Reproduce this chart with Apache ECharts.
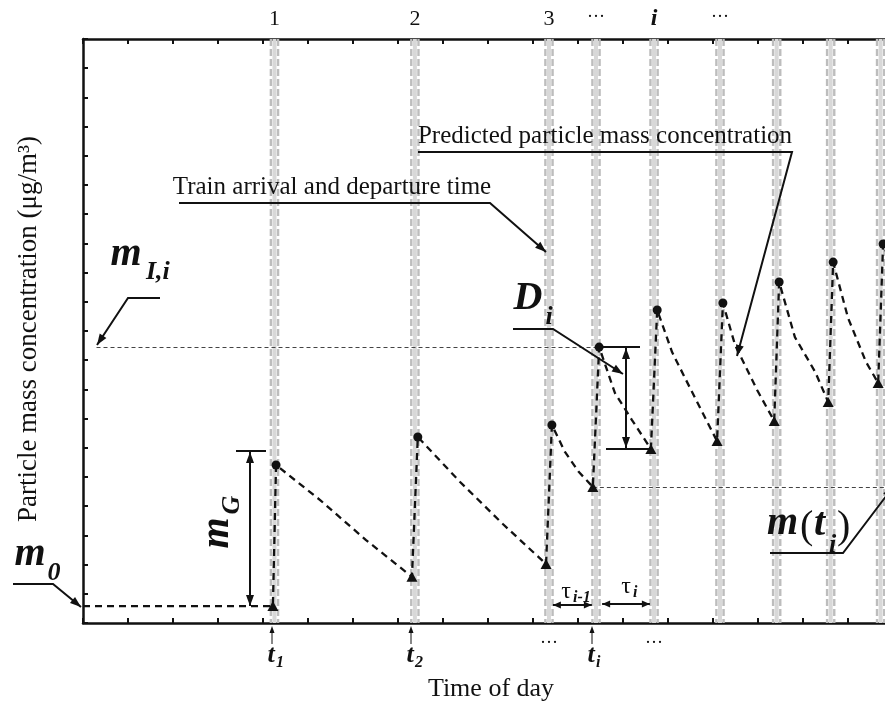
<!DOCTYPE html>
<html>
<head>
<meta charset="utf-8">
<script src="https://cdn.jsdelivr.net/npm/echarts@6/dist/echarts.min.js"></script>
<style>
  html, body { margin: 0; padding: 0; background: #fff; overflow: hidden; }
  #c { width: 910px; height: 709px; }
</style>
</head>
<body>
<div id="c"></div>
<script>
// Train arrival and departure times (x axis units)
const arrivals   = [4.22, 7.31, 10.29, 11.33, 12.62, 14.09, 15.36, 16.56, 17.67];
const departures = [4.29, 7.44, 10.42, 11.47, 12.76, 14.22, 15.47, 16.67, 17.78];
// Background concentration before the first train
const m0 = 0.58;
// Concentration at each arrival (triangles) and at each departure (circles)
const troughs = [0.58, 1.58, 2.02, 4.66, 5.96, 6.23, 6.92, 7.57, 8.22];
const peaks   = [5.41, 6.37, 6.78, 9.45, 10.72, 10.96, 11.68, 12.36, 12.98];
// Points along each decay, from a departure to the next arrival
const decayX = [[5.27, 6.29], [8.38, 9.33], [10.71, 11.02], [11.82, 12.20], [13.09, 13.60],
                [14.49, 14.98], [15.82, 16.27], [17.00, 17.40], [18.20]];
const decayY = [[4.21, 2.84], [4.83, 3.39], [5.86, 5.17], [7.88, 6.95], [9.28, 7.71],
                [9.52, 7.98], [9.79, 8.60], [10.45, 8.94], [11.30]];
// Labels above the train bands and below the axis
const topLabels = ['1', '2', '3', '···', 'i', '···'];
const bottomLabels = [['t', '1'], ['t', '2'], ['···', ''], ['t', 'i'], ['···', '']];

const X_MAX = 18, Y_MAX = 20;
const FONT = "'Liberation Serif','Times New Roman',serif";
const INK = '#111';

const chart = echarts.init(document.getElementById('c'), null, { renderer: 'canvas' });

// Sawtooth profile: background, then for every train a rise and a decay
const sawData = [{ value: [0, m0], symbol: 'none' }];
arrivals.forEach((a, k) => {
  sawData.push({ value: [a, troughs[k]], symbol: 'triangle', symbolSize: [11, 10] });
  sawData.push({ value: [departures[k], peaks[k]], symbol: 'circle', symbolSize: 9 });
  decayX[k].forEach((x, j) => sawData.push({ value: [x, decayY[k][j]], symbol: 'none' }));
});

const axisCommon = {
  type: 'value', min: 0, interval: 1,
  axisLine: { onZero: false, lineStyle: { color: INK, width: 2.5 } },
  axisTick: { inside: true, length: 5, lineStyle: { color: INK, width: 2 } },
  axisLabel: { show: false },
  splitLine: { show: false }
};

chart.setOption({
  animation: false,
  backgroundColor: '#fff',
  grid: { left: 83, top: 39, bottom: 86, right: 17, containLabel: false },
  xAxis: [
    Object.assign({}, axisCommon, { max: X_MAX, position: 'bottom' }),
    Object.assign({}, axisCommon, { max: X_MAX, position: 'top' })
  ],
  yAxis: [Object.assign({}, axisCommon, { max: Y_MAX, position: 'left' })],
  series: [
    {
      // Train presence bands: arrival to departure
      type: 'custom',
      z: 1,
      silent: true,
      data: arrivals.map((a, i) => [a, departures[i]]),
      encode: { x: [0, 1] },
      renderItem: function (params, api) {
        const a = api.coord([api.value(0), 0])[0];
        const d = api.coord([api.value(1), 0])[0];
        const cx = (a + d) / 2;
        const cs = params.coordSys;
        const y0 = cs.y, y1 = cs.y + cs.height;
        return {
          type: 'group',
          children: [
            { type: 'rect', shape: { x: cx - 2, y: y0, width: 4, height: cs.height }, style: { fill: '#d8d8d8' } },
            { type: 'line', shape: { x1: cx - 3.6, y1: y0, x2: cx - 3.6, y2: y1 }, style: { stroke: '#bdbdbd', lineWidth: 2.4, lineDash: [7, 3] } },
            { type: 'line', shape: { x1: cx + 3.6, y1: y0, x2: cx + 3.6, y2: y1 }, style: { stroke: '#bdbdbd', lineWidth: 2.4, lineDash: [7, 3] } }
          ]
        };
      }
    },
    {
      // Predicted particle mass concentration
      type: 'line',
      z: 5,
      silent: true,
      showAllSymbol: true,
      smooth: false,
      clip: true,
      data: sawData,
      itemStyle: { color: INK },
      lineStyle: { color: INK, width: 2.3, type: [7, 5] },
      markLine: {
        silent: true,
        symbol: 'none',
        label: { show: false },
        lineStyle: { color: '#444', width: 1, type: [4, 3] },
        data: [
          [{ coord: [0.3, peaks[3]] }, { coord: [departures[3], peaks[3]] }],
          [{ coord: [arrivals[3], troughs[3]] }, { coord: [X_MAX, troughs[3]] }]
        ]
      }
    }
  ]
});

// ---------- annotations ----------
const px = (x, y) => chart.convertToPixel({ xAxisIndex: 0, yAxisIndex: 0 }, [x, y]);

function T(x, y, s, size, o) {
  o = o || {};
  const font = (o.it ? 'italic ' : '') + (o.b ? 'bold ' : '') + size + 'px ' + FONT;
  const al = o.align || 'center';
  return {
    type: 'text', x: x, y: y, rotation: o.rot || 0, z: 50, silent: true,
    style: { text: s, font: font, fill: INK, textAlign: al, align: al, textVerticalAlign: 'middle', verticalAlign: 'middle' }
  };
}
function L(points, w) {
  return { type: 'polyline', z: 50, silent: true, shape: { points: points }, style: { stroke: INK, lineWidth: w || 2, fill: null } };
}
function H(tip, from, len, wid) {
  len = len || 11; wid = wid || 8;
  const dx = tip[0] - from[0], dy = tip[1] - from[1];
  const l = Math.hypot(dx, dy), ux = dx / l, uy = dy / l;
  const bx = tip[0] - ux * len, by = tip[1] - uy * len;
  const nx = -uy * wid / 2, ny = ux * wid / 2;
  return { type: 'polygon', z: 51, silent: true, shape: { points: [tip, [bx + nx, by + ny], [bx - nx, by - ny]] }, style: { fill: INK } };
}
function pointer(points, len, wid) {
  const n = points.length;
  return [L(points), H(points[n - 1], points[n - 2], len, wid)];
}
function dbl(a, b, w, len, wid) {
  return [L([a, b], w || 2), H(a, b, len, wid), H(b, a, len, wid)];
}

const g = [];
const bi = { b: true, it: true };
const centers = arrivals.map((a, k) => px((a + departures[k]) / 2, 0)[0]);

// axis titles
g.push(T(29, 329, 'Particle mass concentration (μg/m³)', 27, { rot: Math.PI / 2 }));
g.push(T(491, 689, 'Time of day', 26));

// train numbers above the plot
topLabels.forEach((s, k) => {
  if (s === '···') g.push(T(centers[k], 17, s, 18));
  else if (s === 'i') g.push(T(centers[k], 19, s, 24, bi));
  else g.push(T(centers[k], 19, s, 22));
});

// arrival markers under the axis
bottomLabels.forEach((lab, k) => {
  const ax = Math.round(px(arrivals[k], 0)[0]) - 1;
  if (lab[0] === '···') {
    g.push(T(centers[k], 643, '···', 18));
  } else {
    g.push(L([[ax, 644], [ax, 632]], 1));
    g.push(H([ax, 626], [ax, 644], 7, 5));
    g.push(T(ax - 1, 655, lab[0], 26, bi));
    g.push(T(ax + 4, 663, lab[1], 16, Object.assign({ align: 'left' }, bi)));
  }
});

// m0
g.push(T(30, 555, 'm', 40, bi));
g.push(T(54, 573, '0', 26, bi));
g.push(...pointer([[13, 584], [53, 584], [81, 607]], 11, 8));

// mG
const yM0 = px(0, m0)[1];
g.push(L([[236, 451], [266, 451]]));
g.push(...dbl([250, 452], [250, yM0], 2, 11, 8));
g.push(T(218, 533, 'm', 40, Object.assign({ rot: Math.PI / 2 }, bi)));
g.push(T(232, 505, 'G', 26, Object.assign({ rot: Math.PI / 2 }, bi)));

// m_I,i
g.push(T(126, 255, 'm', 40, bi));
g.push(T(146, 272, 'I,i', 26, Object.assign({ align: 'left' }, bi)));
g.push(...pointer([[160, 298], [128, 298], [97, 345]], 11, 8));

// Train arrival and departure time
g.push(T(332, 187, 'Train arrival and departure time', 25));
g.push(...pointer([[179, 203], [490, 203], [546, 252]], 11, 8));

// Predicted particle mass concentration
g.push(T(605, 136, 'Predicted particle mass concentration', 25));
g.push(...pointer([[418, 152], [792, 152], [737, 356]], 11, 8));

// D_i: drop between a departure and the next arrival
const yTop = px(0, peaks[3])[1], yBot = px(0, troughs[4])[1];
const xDep = px(departures[3], 0)[0], xArr = px(arrivals[4], 0)[0];
g.push(L([[xDep - 2, yTop], [640, yTop]]));
g.push(L([[606, yBot], [xArr, yBot]]));
g.push(...dbl([626, yTop + 1], [626, yBot - 1], 2, 11, 8));
g.push(T(528, 299, 'D', 40, bi));
g.push(T(549, 317, 'i', 26, bi));
g.push(...pointer([[513, 329], [553, 329], [623, 374]], 11, 8));

// m(t_i)
g.push(T(767, 524, 'm', 40, Object.assign({ align: 'left' }, bi)));
g.push(T(800, 527, '(', 40, { align: 'left' }));
g.push(T(814, 525, 't', 40, Object.assign({ align: 'left' }, bi)));
g.push(T(829, 545, 'i', 26, Object.assign({ align: 'left' }, bi)));
g.push(T(837, 527, ')', 40, { align: 'left' }));
g.push(...pointer([[770, 553], [843, 553], [893, 487]], 11, 8));

// tau intervals
const yTau = 605;
const t1a = px(departures[2], 0)[0] + 1, t1b = px(arrivals[3], 0)[0] - 1;
const t2a = px(departures[3], 0)[0] + 3, t2b = px(arrivals[4], 0)[0] - 1;
g.push(...dbl([t1a, yTau], [t1b, yTau], 2, 8, 7));
g.push(...dbl([t2a, yTau - 1], [t2b, yTau - 1], 2, 8, 7));
g.push(T(566, 592, 'τ', 24));
g.push(T(573, 598, 'i-1', 16, Object.assign({ align: 'left' }, bi)));
g.push(T(626, 587, 'τ', 24));
g.push(T(633, 593, 'i', 16, Object.assign({ align: 'left' }, bi)));

chart.setOption({ graphic: { elements: g } });
</script>
</body>
</html>
